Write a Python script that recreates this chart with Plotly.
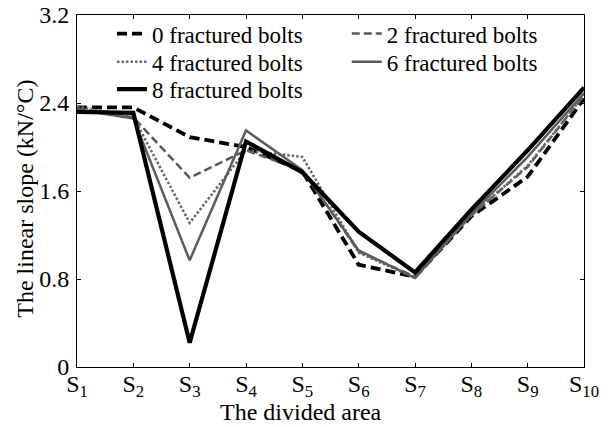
import plotly.graph_objects as go

# Divided areas along the joint
areas = ["S<sub>%d</sub>" % i for i in range(1, 11)]
area_pos = list(range(1, 11))

# Linear slope (kN/°C) for each fracture case
bolts_0 = [2.36, 2.36, 2.09, 2.00, 1.78, 0.93, 0.82, 1.37, 1.73, 2.44]
bolts_2 = [2.35, 2.27, 1.72, 1.97, 1.79, 1.05, 0.82, 1.38, 1.82, 2.47]
bolts_4 = [2.37, 2.27, 1.31, 1.97, 1.91, 1.04, 0.81, 1.38, 1.83, 2.47]
bolts_6 = [2.34, 2.26, 0.97, 2.15, 1.79, 1.06, 0.81, 1.39, 1.91, 2.49]
bolts_8 = [2.32, 2.31, 0.22, 2.05, 1.77, 1.23, 0.86, 1.43, 1.97, 2.54]

# name, values, colour, dash pattern, width
series = [
    ("0 fractured bolts", bolts_0, "#000000", "10px,5px", 3.8),
    ("2 fractured bolts", bolts_2, "#585858", "8px,4px", 2.5),
    ("4 fractured bolts", bolts_4, "#6a6a6a", "2.5px,2px", 2.6),
    ("6 fractured bolts", bolts_6, "#5c5c5c", "solid", 2.5),
    ("8 fractured bolts", bolts_8, "#000000", "solid", 4.2),
]

# legend grid: two columns, three rows, filled row by row
legend_cols = [0.069, 0.532]
legend_rows = [0.947, 0.867, 0.789]

serif = "Liberation Serif"
black = "black"

fig = go.Figure()
legend_layout = {}
for i, (name, vals, color, dash, width) in enumerate(series):
    key = "legend" if i == 0 else "legend%d" % (i + 1)
    fig.add_trace(go.Scatter(
        x=area_pos, y=vals, mode="lines", name=name, legend=key,
        line=dict(color=color, dash=dash, width=width),
    ))
    legend_layout[key] = dict(
        x=legend_cols[i % 2], y=legend_rows[i // 2],
        xanchor="left", yanchor="middle",
        bgcolor="rgba(0,0,0,0)", borderwidth=0,
        font=dict(family=serif, size=23, color=black),
        itemwidth=30,
    )

fig.update_layout(
    width=610, height=427,
    margin=dict(l=77, r=26, t=15, b=60, autoexpand=False),
    paper_bgcolor="white", plot_bgcolor="white",
    font=dict(family=serif, size=24, color=black),
    showlegend=True,
    xaxis=dict(
        range=[1, 10], tickvals=area_pos, ticktext=areas,
        tickfont=dict(family=serif, size=24, color=black),
        ticks="inside", ticklen=4, tickcolor=black,
        showline=True, linecolor=black, linewidth=1, mirror="ticks",
        showgrid=False, zeroline=False, ticklabelstandoff=-5,
    ),
    yaxis=dict(
        range=[0, 3.2], tickvals=[0, 0.8, 1.6, 2.4, 3.2],
        ticktext=["0", "0.8", "1.6", "2.4", "3.2"],
        tickfont=dict(family=serif, size=24, color=black),
        ticks="inside", ticklen=4, tickcolor=black,
        showline=True, linecolor=black, linewidth=1, mirror="ticks",
        showgrid=False, zeroline=False, ticklabelstandoff=2,
    ),
    annotations=[
        dict(text="The divided area", xref="paper", yref="paper",
             x=0.442, y=-0.1705, xanchor="center", yanchor="bottom",
             showarrow=False, font=dict(family=serif, size=24, color=black)),
        dict(text="The linear slope (kN/°C)", xref="paper", yref="paper",
             x=-0.1026, y=0.478, xanchor="center", yanchor="middle",
             textangle=-90, showarrow=False,
             font=dict(family=serif, size=24, color=black)),
    ],
    **legend_layout,
)

fig.write_html("out.html")
